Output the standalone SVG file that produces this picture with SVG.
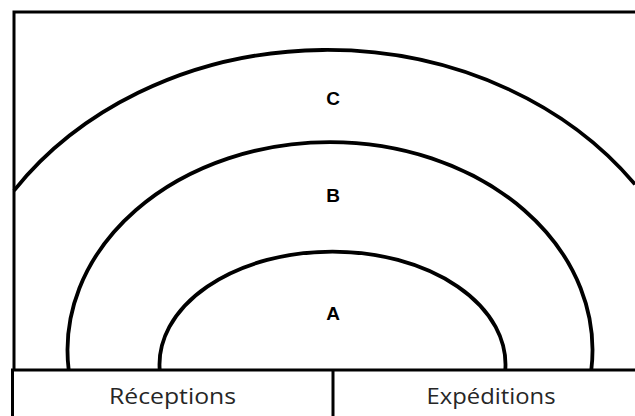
<svg xmlns="http://www.w3.org/2000/svg" width="635" height="416" viewBox="0 0 635 416">
<style>
.frame{fill:none;stroke:#000;stroke-width:3}
.arc{fill:none;stroke:#000;stroke-width:3.8}
.zone{font-family:"Liberation Sans",Arial,sans-serif;font-weight:bold;font-size:19px;fill:#000;text-anchor:middle}
.lbl{font-family:"Open Sans","Noto Sans",sans-serif;font-size:22px;fill:#262626;text-anchor:middle}
</style>
<rect width="635" height="416" fill="#fff"/>
<g id="frame">
<path class="frame" d="M14 370 V12 H640"/>
<path class="frame" d="M12.5 416 V370 H640 M333 370 V416"/>
</g>
<g id="zone-C">
<path class="arc" d="M14 190.6 A378 320 0 0 1 635 184.4"/>
<text class="zone" x="333" y="105">C</text>
</g>
<g id="zone-B">
<path class="arc" d="M68.7 370 A262.5 208 0 1 1 591.3 370"/>
<text class="zone" x="333" y="202">B</text>
</g>
<g id="zone-A">
<path class="arc" d="M159.7 370 A173 113 0 1 1 505.3 370"/>
<text class="zone" x="333" y="320">A</text>
</g>
<g id="receptions">
<text class="lbl" x="172.5" y="404" textLength="127" lengthAdjust="spacingAndGlyphs">Réceptions</text>
</g>
<g id="expeditions">
<text class="lbl" x="491" y="404" textLength="129" lengthAdjust="spacingAndGlyphs">Expéditions</text>
</g>
</svg>
